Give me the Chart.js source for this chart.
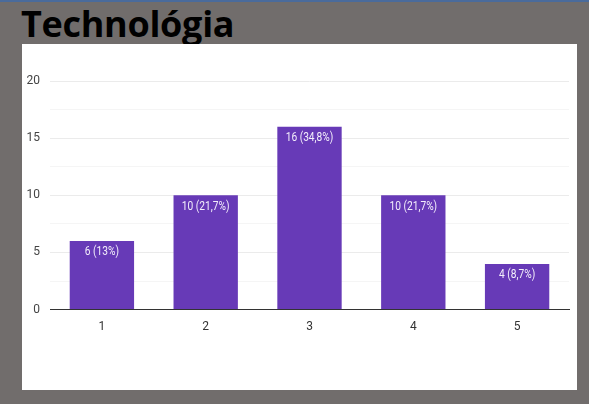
<!DOCTYPE html>
<html><head><meta charset="utf-8">
<script src="https://cdn.jsdelivr.net/npm/chart.js@4/dist/chart.umd.min.js"></script>
<style>
html,body{margin:0;padding:0;}
body{width:589px;height:404px;background:#716d6c;position:relative;overflow:hidden;}
#topline{position:absolute;left:0;top:0;width:589px;height:2px;background:#4a6b9c;}
#title{position:absolute;left:21px;top:3px;font-family:"Open Sans",Lato,sans-serif;font-weight:700;font-size:36px;line-height:42px;color:#000;letter-spacing:-0.3px;}
#card{position:absolute;left:22px;top:44px;width:555px;height:346px;background:#fff;}
canvas{display:block;}
</style></head><body>
<div id="topline"></div>
<div id="title">Technológia</div>
<div id="card"><canvas id="c" width="555" height="346"></canvas></div>
<script>
const categories = ["1","2","3","4","5"];
const counts = [6, 10, 16, 10, 4];
const labels = ["6 (13%)","10 (21,7%)","16 (34,8%)","10 (21,7%)","4 (8,7%)"];
const yTicks = [0, 5, 10, 15, 20];

const narrow = 'Roboto, sans-serif';

const barLabels = {
  id: 'barLabels',
  afterDatasetsDraw(chart) {
    const ctx = chart.ctx;
    const meta = chart.getDatasetMeta(0);
    ctx.save();
    ctx.font = '12px ' + narrow;
    ctx.fillStyle = '#f3eefb';
    ctx.textAlign = 'center';
    ctx.textBaseline = 'middle';
    meta.data.forEach((bar, i) => {
      ctx.save();
      ctx.translate(bar.x, bar.y + 11);
      ctx.scale(0.85, 1.08);
      ctx.fillText(labels[i], 0, 0);
      ctx.restore();
    });
    ctx.restore();
  }
};

new Chart(document.getElementById('c'), {
  type: 'bar',
  data: {
    labels: categories,
    datasets: [{
      data: counts,
      backgroundColor: '#673ab7',
      borderWidth: 0,
      barPercentage: 0.62,
      categoryPercentage: 1.0
    }]
  },
  options: {
    responsive: false,
    animation: false,
    layout: { padding: { left: 0, right: 8, top: 37, bottom: 46 } },
    plugins: { legend: { display: false }, tooltip: { enabled: false } },
    scales: {
      x: {
        grid: { display: false, drawTicks: false },
        border: { display: true, color: '#333', width: 1 },
        ticks: { color: '#333', font: { family: narrow, size: 12 }, padding: 10 }
      },
      y: {
        min: 0, max: 20,
        afterFit(scale) { scale.width = 28; },
        ticks: {
          stepSize: 2.5,
          color: '#444',
          font: { family: narrow, size: 12 },
          padding: 10,
          callback: (v) => yTicks.includes(v) ? String(v) : ''
        },
        grid: {
          drawTicks: false,
          color: (c) => (c.tick && c.tick.value % 5 === 0) ? '#ebebeb' : '#f5f5f5'
        },
        border: { display: false }
      }
    }
  },
  plugins: [barLabels]
});
</script>
</body></html>
